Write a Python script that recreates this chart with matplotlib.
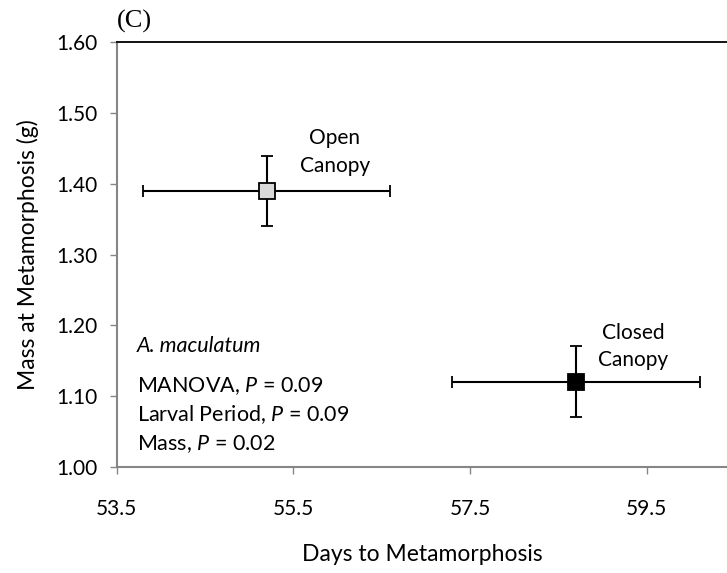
import matplotlib
matplotlib.use("Agg")
import matplotlib.pyplot as plt

# Mean (± SE) days to metamorphosis and mass for each canopy treatment
groups = ["Open\nCanopy", "Closed\nCanopy"]
days = [55.2, 58.7]
days_err = [1.4, 1.4]
mass = [1.39, 1.12]
mass_err = [0.05, 0.05]
fills = ["#d9d9d9", "#000000"]

x_ticks = [53.5, 55.5, 57.5, 59.5]
y_ticks = [1.00, 1.10, 1.20, 1.30, 1.40, 1.50, 1.60]

stats_lines = ["MANOVA, $\\it{P}$ = 0.09",
               "Larval Period, $\\it{P}$ = 0.09",
               "Mass, $\\it{P}$ = 0.02"]

plt.rcParams['font.family'] = ['Lato', 'DejaVu Sans']
plt.rcParams['mathtext.fontset'] = 'custom'
plt.rcParams['mathtext.it'] = 'Lato:italic'
plt.rcParams['mathtext.rm'] = 'Lato'

fig = plt.figure(figsize=(7.27, 5.73), dpi=100)
ax = fig.add_axes([0.1605, 0.1855, 0.8395, 0.7405])

for d, de, m, me, fc in zip(days, days_err, mass, mass_err, fills):
    ax.errorbar(d, m, xerr=de, yerr=me, fmt='s', color='black', ecolor='black',
                elinewidth=1.5, capsize=4, capthick=1.5, markersize=12,
                markerfacecolor=fc, markeredgecolor='black', markeredgewidth=1.3,
                zorder=3)

# group labels sit up and to the right of each marker
ax.text(days[0] + 0.77, mass[0] + 0.055, groups[0], ha='center', va='center',
        fontsize=15, linespacing=1.45)
ax.text(days[1] + 0.65, mass[1] + 0.05, groups[1], ha='center', va='center',
        fontsize=15, linespacing=1.45)

ax.text(0.033, 0.285, "A. maculatum", style='italic', transform=ax.transAxes,
        fontsize=15.5, va='center')
for i, line in enumerate(stats_lines):
    ax.text(0.033, 0.19 - i * 0.068, line, transform=ax.transAxes,
            fontsize=15.5, va='center')

ax.set_xlim(53.5, 60.41)
ax.set_ylim(1.0, 1.6)
ax.set_xticks(x_ticks)
ax.set_xticklabels([f"{v:.1f}" for v in x_ticks])
ax.set_yticks(y_ticks)
ax.set_yticklabels([f"{v:.2f}" for v in y_ticks])

ax.tick_params(axis='both', direction='out', length=5, width=1, color='#868686',
               labelsize=15, pad=6)
ax.tick_params(axis='x', pad=18)
ax.tick_params(axis='y', pad=9)

ax.spines['left'].set_color('#868686')
ax.spines['bottom'].set_color('#868686')
ax.spines['left'].set_linewidth(1.5)
ax.spines['bottom'].set_linewidth(1.5)
ax.spines['top'].set_color('black')
ax.spines['top'].set_linewidth(1.3)
ax.spines['right'].set_visible(False)

ax.set_xlabel("Days to Metamorphosis", fontsize=16.5, labelpad=18)
ax.set_ylabel("Mass at Metamorphosis (g)", fontsize=16.5, labelpad=12)

fig.text(0.161, 0.962, "(C)", family='Liberation Serif', fontsize=19, ha='left',
         va='center')

fig.savefig("out.png", dpi=100)
